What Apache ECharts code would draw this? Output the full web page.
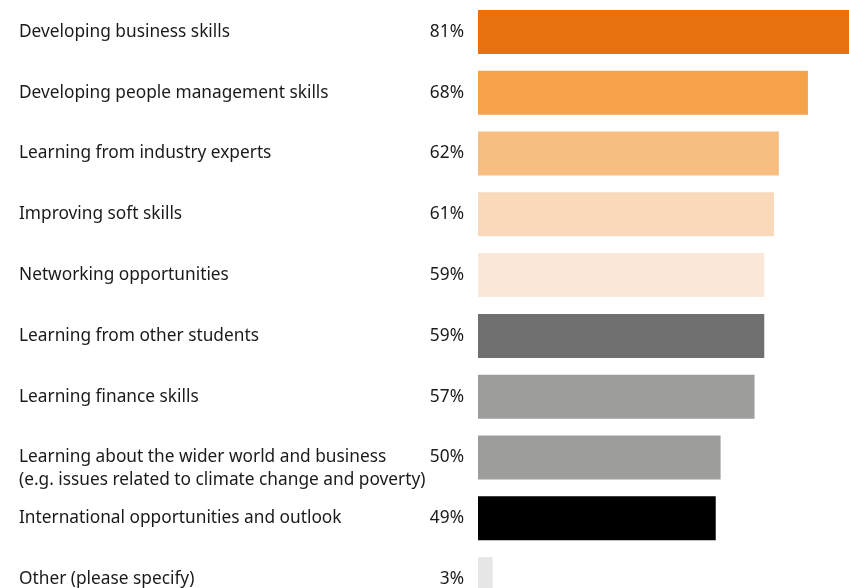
<!DOCTYPE html>
<html>
<head>
<meta charset="utf-8">
<script src="https://cdn.jsdelivr.net/npm/echarts@6/dist/echarts.min.js"></script>
<style>
  html, body { margin: 0; padding: 0; background: #fff; }
  #chart { width: 849px; height: 588px; }
</style>
</head>
<body>
<div id="chart"></div>
<script>
// Survey: what respondents value most (share of respondents, %)
const categories = [
  'Developing business skills',
  'Developing people management skills',
  'Learning from industry experts',
  'Improving soft skills',
  'Networking opportunities',
  'Learning from other students',
  'Learning finance skills',
  'Learning about the wider world and business\n(e.g. issues related to climate change and poverty)',
  'International opportunities and outlook',
  'Other (please specify)'
];
const values = [81, 68, 62, 61, 59, 59, 57, 50, 49, 3];
const barColors = [
  '#E8700E', '#F5A24B', '#F7BE82', '#FAD9BA', '#FCE8D9',
  '#6F6F6F', '#9D9D9C', '#9D9D9C', '#000000', '#E6E6E6'
];

const FONT = '"Noto Sans", sans-serif';
const FONT_SIZE = 17.3;
const chart = echarts.init(document.getElementById('chart'));

chart.setOption({
  animation: false,
  grid: {
    left: 478, right: -22, top: 1.5, bottom: -21.5,
    containLabel: false,
    outerBoundsMode: 'none'
  },
  xAxis: {
    type: 'value', min: 0, max: 81, show: false
  },
  yAxis: {
    type: 'category',
    inverse: true,
    data: categories,
    axisLine: { show: false },
    axisTick: { show: false },
    axisLabel: {
      align: 'left',
      margin: 459,
      color: '#1a1a1a',
      fontFamily: FONT,
      fontSize: FONT_SIZE,
      lineHeight: 23,
      // two-line labels: keep the first line level with the bar centre
      formatter: v => v.indexOf('\n') >= 0 ? '\n' + v : v
    }
  },
  series: [{
    type: 'bar',
    barWidth: 44,
    data: values.map((v, i) => ({ value: v, itemStyle: { color: barColors[i] } })),
    label: {
      show: true,
      position: 'left',
      distance: 14,
      formatter: '{c}%',
      color: '#1a1a1a',
      fontFamily: FONT,
      fontSize: FONT_SIZE
    }
  }]
});
</script>
</body>
</html>
